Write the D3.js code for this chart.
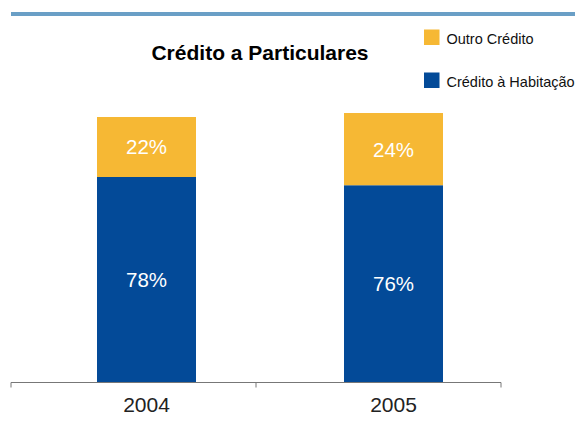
<!DOCTYPE html>
<html>
<head>
<meta charset="utf-8">
<script src="https://cdn.jsdelivr.net/npm/d3@7"></script>
<style>
  body { margin: 0; background: #fff; }
  svg { display: block; font-family: "Liberation Sans", Arial, sans-serif; }
</style>
</head>
<body>
<div id="chart"></div>
<script>
// data (bar heights in index units, labels as printed)
var years = ["2004", "2005"];
var habitacao = [77.4, 74.3];      // Crédito à Habitação
var outro = [22.6, 27.2];          // Outro Crédito
var habitacaoLabels = ["78%", "76%"];
var outroLabels = ["22%", "24%"];
var seriesNames = ["Outro Crédito", "Crédito à Habitação"];
var seriesColors = ["#F6B834", "#034A98"];

var W = 575, H = 423;

var svg = d3.select("#chart").append("svg")
  .attr("width", W)
  .attr("height", H);

// top rule
svg.append("rect")
  .attr("x", 11).attr("y", 12)
  .attr("width", W - 11).attr("height", 4)
  .attr("fill", "#6A9FC6");

// title
svg.append("text")
  .attr("x", 260).attr("y", 59.5)
  .attr("text-anchor", "middle")
  .style("font-size", "21px")
  .style("font-weight", "bold")
  .attr("fill", "#000")
  .text("Crédito a Particulares");

// scales
var x = d3.scaleBand().domain(years).range([23, 517]);   // bar placement
var xAxisScale = d3.scaleBand().domain(years).range([11, 501]); // axis bands
var y = d3.scaleLinear().domain([0, 100]).range([382.5, 117]);
var barW = 99;

// stacked data
var rows = years.map(function(yr, i) {
  return {year: yr, hab: habitacao[i], out: outro[i], habLabel: habitacaoLabels[i], outLabel: outroLabels[i]};
});

var g = svg.append("g");
var bars = g.selectAll(".bar").data(rows).enter().append("g")
  .attr("class", "bar")
  .attr("transform", function(d) { return "translate(" + (x(d.year) + (x.bandwidth() - barW) / 2) + ",0)"; });

// housing (bottom)
bars.append("rect")
  .attr("x", 0)
  .attr("width", barW)
  .attr("y", function(d) { return y(d.hab); })
  .attr("height", function(d) { return y(0) - y(d.hab); })
  .attr("fill", seriesColors[1]);

// other credit (top)
bars.append("rect")
  .attr("x", 0)
  .attr("width", barW)
  .attr("y", function(d) { return y(d.hab + d.out); })
  .attr("height", function(d) { return y(d.hab) - y(d.hab + d.out); })
  .attr("fill", seriesColors[0]);

// labels
bars.append("text")
  .attr("x", barW / 2)
  .attr("y", function(d) { return (y(0) + y(d.hab)) / 2; })
  .attr("dy", "0.36em")
  .attr("text-anchor", "middle")
  .style("font-size", "20.5px")
  .attr("fill", "#fff")
  .text(function(d) { return d.habLabel; });

bars.append("text")
  .attr("x", barW / 2)
  .attr("y", function(d) { return (y(d.hab) + y(d.hab + d.out)) / 2; })
  .attr("dy", "0.36em")
  .attr("text-anchor", "middle")
  .style("font-size", "20.5px")
  .attr("fill", "#fff")
  .text(function(d) { return d.outLabel; });

// x axis: line with ticks between categories
var axisG = svg.append("g").attr("transform", "translate(0,382.5)");
axisG.append("line")
  .attr("x1", 11).attr("x2", 501)
  .attr("stroke", "#777").attr("stroke-width", 1);
var tickPos = years.map(function(yr) { return xAxisScale(yr); }).concat([xAxisScale.range()[1]]);
axisG.selectAll(".tick").data(tickPos).enter().append("line")
  .attr("x1", function(d) { return d; }).attr("x2", function(d) { return d; })
  .attr("y1", 0).attr("y2", 5)
  .attr("stroke", "#777");
axisG.selectAll(".lbl").data(years).enter().append("text")
  .attr("x", function(d) { return x(d) + x.bandwidth() / 2; })
  .attr("y", 29.5)
  .attr("text-anchor", "middle")
  .style("font-size", "21px")
  .attr("fill", "#222")
  .text(function(d) { return d; });

// legend
var legend = svg.append("g");
seriesNames.forEach(function(name, i) {
  var ly = 29.5 + i * 43;
  legend.append("rect")
    .attr("x", 424).attr("y", ly)
    .attr("width", 15.5).attr("height", 15.5)
    .attr("fill", seriesColors[i]);
  legend.append("text")
    .attr("x", 446.5).attr("y", ly + 14.5)
    .style("font-size", "14.5px")
    .attr("fill", "#111")
    .text(name);
});
</script>
</body>
</html>
